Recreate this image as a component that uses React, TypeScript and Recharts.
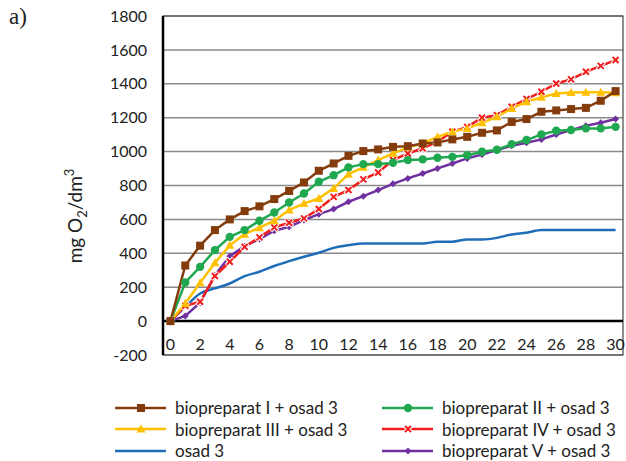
import { LineChart, Line, XAxis, YAxis, CartesianGrid, ReferenceLine, ReferenceArea } from 'recharts'

const days = [0, 1, 2, 3, 4, 5, 6, 7, 8, 9, 10, 11, 12, 13, 14, 15, 16, 17, 18, 19, 20, 21, 22, 23, 24, 25, 26, 27, 28, 29, 30]
const bioI = [0, 328, 445, 537, 600, 649, 677, 720, 768, 818, 887, 930, 975, 1003, 1013, 1028, 1032, 1048, 1054, 1072, 1087, 1111, 1125, 1175, 1192, 1235, 1243, 1251, 1258, 1300, 1357]
const bioII = [0, 228, 320, 419, 497, 537, 592, 641, 700, 753, 822, 861, 907, 926, 926, 934, 950, 954, 964, 969, 979, 999, 1011, 1044, 1068, 1101, 1123, 1127, 1137, 1137, 1146]
const bioIII = [0, 104, 226, 344, 447, 513, 551, 592, 655, 694, 724, 783, 867, 907, 950, 990, 1025, 1048, 1087, 1117, 1137, 1170, 1205, 1255, 1294, 1320, 1343, 1349, 1350, 1350, 1347]
const bioIV = [0, 90, 114, 266, 350, 438, 494, 553, 580, 606, 661, 733, 773, 836, 877, 950, 989, 1019, 1058, 1117, 1146, 1200, 1215, 1265, 1310, 1353, 1402, 1426, 1471, 1506, 1540]
const bioV = [0, 30, 108, 271, 383, 442, 484, 533, 556, 596, 631, 661, 704, 737, 773, 810, 842, 871, 901, 930, 960, 983, 1009, 1035, 1052, 1072, 1101, 1127, 1152, 1170, 1192]
const osad = [0, 84, 163, 193, 222, 265, 291, 325, 354, 380, 403, 432, 448, 458, 458, 458, 458, 458, 468, 468, 482, 482, 491, 511, 521, 537, 537, 537, 537, 537, 537]

const xTicks = [0, 2, 4, 6, 8, 10, 12, 14, 16, 18, 20, 22, 24, 26, 28, 30]
const yTicks = [-200, 0, 200, 400, 600, 800, 1000, 1200, 1400, 1600, 1800]

const data = days.map((d, i) => ({
  day: d,
  b1: bioI[i],
  b2: bioII[i],
  b3: bioIII[i],
  b4: bioIV[i],
  b5: bioV[i],
  o3: osad[i]
}))

const FONT = 'Lato, "Open Sans", sans-serif'

type Shape = 'square' | 'circle' | 'triangle' | 'x' | 'diamond' | 'none'

const Marker = ({ cx, cy, shape, color }: { cx: number; cy: number; shape: Shape; color: string }) => {
  if (shape === 'square') return <rect x={cx - 4} y={cy - 4} width={8} height={8} fill={color} />
  if (shape === 'circle') return <circle cx={cx} cy={cy} r={4.2} fill={color} />
  if (shape === 'triangle')
    return <path d={`M${cx},${cy - 4.5} L${cx + 4.5},${cy + 3.5} L${cx - 4.5},${cy + 3.5} Z`} fill={color} />
  if (shape === 'x')
    return (
      <g>
        <path d={`M${cx - 3.5},${cy - 3.5} L${cx + 3.5},${cy + 3.5} M${cx + 3.5},${cy - 3.5} L${cx - 3.5},${cy + 3.5}`} stroke="#fff" strokeWidth={4} />
        <path d={`M${cx - 3},${cy - 3} L${cx + 3},${cy + 3} M${cx + 3},${cy - 3} L${cx - 3},${cy + 3}`} stroke={color} strokeWidth={2} />
      </g>
    )
  if (shape === 'diamond') return <path d={`M${cx},${cy - 3.5} L${cx + 3.5},${cy} L${cx},${cy + 3.5} L${cx - 3.5},${cy} Z`} fill={color} />
  return null
}

const series: { key: string; name: string; color: string; shape: Shape }[] = [
  { key: 'b1', name: 'biopreparat I + osad 3', color: '#843C0C', shape: 'square' },
  { key: 'b2', name: 'biopreparat II + osad 3', color: '#1FA850', shape: 'circle' },
  { key: 'b3', name: 'biopreparat III + osad 3', color: '#FFC000', shape: 'triangle' },
  { key: 'b4', name: 'biopreparat IV + osad 3', color: '#F21C1C', shape: 'x' },
  { key: 'o3', name: 'osad 3', color: '#1F6DB8', shape: 'none' },
  { key: 'b5', name: 'biopreparat V + osad 3', color: '#7030A0', shape: 'diamond' }
]

const drawOrder = ['o3', 'b5', 'b4', 'b3', 'b2', 'b1']

const XTick = ({ x, y, payload }: any) => (
  <text x={x} y={y - 14} textAnchor="middle" dominantBaseline="central" fontSize={16} fontFamily={FONT} fill="#222">
    {payload.value}
  </text>
)

const YLabel = () => (
  <text transform="translate(82,216) rotate(-90)" textAnchor="middle" fontSize={19} fontFamily={FONT} fill="#222">
    mg O
    <tspan fontSize={13} dy={5}>2</tspan>
    <tspan dy={-5}>/dm</tspan>
    <tspan fontSize={13} dy={-8}>3</tspan>
  </text>
)

const LegendItem = ({ s }: { s: (typeof series)[number] }) => (
  <div style={{ display: 'flex', alignItems: 'center', height: 21.5 }}>
    <svg width={56} height={12} style={{ marginRight: 5 }}>
      <line x1={1} y1={6} x2={52} y2={6} stroke={s.color} strokeWidth={2.5} />
      <Marker cx={27} cy={6} shape={s.shape} color={s.color} />
    </svg>
    <span>{s.name}</span>
  </div>
)

export default function App() {
  return (
    <div style={{ position: 'absolute', left: 0, top: 0, width: 626, height: 461, background: '#fff' }}>
      <div style={{ position: 'absolute', left: 9, top: 4, fontFamily: '"Liberation Serif", serif', fontSize: 23, color: '#222' }}>a)</div>
      <LineChart width={626} height={461} data={data} margin={{ top: 16, right: 3, left: 0, bottom: 100 }}>
        <CartesianGrid horizontal vertical={false} stroke="#8a8a8a" strokeWidth={1.5} />
        <ReferenceArea x1={-0.5} x2={30.5} y1={-200} y2={1800} fill="none" stroke="#444" strokeWidth={1.2} />
        <XAxis
          dataKey="day"
          type="number"
          domain={[-0.5, 30.5]}
          ticks={xTicks}
          axisLine={false}
          tickLine={false}
          tickSize={0}
          height={6}
          tick={<XTick />}
          interval={0}
        />
        <YAxis
          domain={[-200, 1800]}
          ticks={yTicks}
          width={163}
          axisLine={{ stroke: '#000', strokeWidth: 2.5 }}
          tickLine={false}
          tickSize={0}
          tickMargin={16}
          tick={{ fontSize: 16, fontFamily: FONT, fill: '#222' }}
          interval={0}
          label={<YLabel />}
        />
        <ReferenceLine y={0} stroke="#000" strokeWidth={2.5} />
        {drawOrder.map((k) => {
          const s = series.find((x) => x.key === k)!
          return (
            <Line
              key={k}
              dataKey={k}
              name={s.name}
              type={k === 'o3' ? 'monotone' : 'linear'}
              stroke={s.color}
              strokeWidth={2.5}
              isAnimationActive={false}
              dot={s.shape === 'none' ? false : (p: any) => <Marker key={p.index} cx={p.cx} cy={p.cy} shape={s.shape} color={s.color} />}
              activeDot={false}
            />
          )
        })}
      </LineChart>
      <div
        style={{
          position: 'absolute',
          left: 114,
          top: 397,
          display: 'grid',
          gridTemplateColumns: '267px 240px',
          fontFamily: FONT,
          fontSize: 17,
          color: '#222'
        }}
      >
        {series.map((s) => (
          <LegendItem key={s.key} s={s} />
        ))}
      </div>
    </div>
  )
}
